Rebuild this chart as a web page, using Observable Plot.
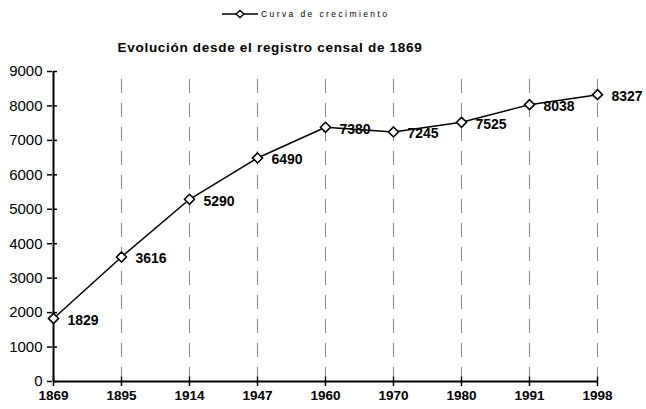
<!DOCTYPE html>
<html>
<head>
<meta charset="utf-8">
<script src="https://cdn.jsdelivr.net/npm/d3@7"></script>
<script src="https://cdn.jsdelivr.net/npm/@observablehq/plot@0.6"></script>
<style>
  html, body { margin: 0; padding: 0; background: #fff; }
  #wrap { position: relative; width: 646px; height: 409px; font-family: Arial, "Liberation Sans", sans-serif; }
  #legend { position: absolute; left: 222px; top: 7px; height: 14px; display: flex; align-items: center; font-size: 8.5px; letter-spacing: 2.4px; color: #000; }
  #title { position: absolute; left: 0; width: 540px; top: 40px; text-align: center; font-weight: bold; font-size: 13.5px; letter-spacing: 0.7px; color: #000; }
  #chart { position: absolute; left: 0; top: 62px; }
</style>
</head>
<body>
<div id="wrap">
  <div id="legend">
    <svg width="36" height="10" style="margin-right:3px"><line x1="0" y1="5" x2="36" y2="5" stroke="#000" stroke-width="1.5"/><path d="M14,5 L18,1.5 L22,5 L18,8.5 Z" fill="#fff" stroke="#000" stroke-width="1.4"/></svg>
    <span>Curva de crecimiento</span>
  </div>
  <div id="title">Evolución desde el registro censal de 1869</div>
  <div id="chart"></div>
</div>
<script>
const years = ["1869", "1895", "1914", "1947", "1960", "1970", "1980", "1991", "1998"];
const values = [1829, 3616, 5290, 6490, 7380, 7245, 7525, 8038, 8327];
const yTicks = [0, 1000, 2000, 3000, 4000, 5000, 6000, 7000, 8000, 9000];

const data = years.map((y, i) => ({year: y, value: values[i]}));

const chart = Plot.plot({
  width: 646,
  height: 347,
  marginTop: 9,
  marginBottom: 28,
  marginLeft: 52,
  marginRight: 48,
  style: {fontFamily: "Arial, 'Liberation Sans', sans-serif", background: "#fff", color: "#000"},
  x: {type: "point", domain: years, padding: 0},
  y: {domain: [0, 9000]},
  marks: [
    Plot.ruleX(years.slice(1), {x: d => d, y1: 0, y2: 9000, stroke: "#888", strokeWidth: 1, strokeDasharray: "14,10"}),
    Plot.axisY({ticks: yTicks, tickSize: 5, tickPadding: 5, tickFormat: d => String(d), fontSize: 15, label: null, strokeWidth: 1.5}),
    Plot.axisX({tickSize: 5, tickPadding: 4, fontSize: 13.5, fontWeight: "bold", label: null, strokeWidth: 1.5}),
    Plot.ruleY(yTicks, {y: d => d, x1: () => years[0], x2: () => years[0], insetRight: -4, stroke: "#000", strokeWidth: 1.5}),
    Plot.ruleX(years, {x: d => d, y1: 0, y2: 130, stroke: "#000", strokeWidth: 1.5}),
    Plot.ruleX([years[0]], {x: d => d, y1: 0, y2: 9000, stroke: "#000", strokeWidth: 2}),
    Plot.ruleY([0], {x1: () => years[0], x2: () => years[years.length - 1], stroke: "#000", strokeWidth: 2}),
    Plot.line(data, {x: "year", y: "value", stroke: "#000", strokeWidth: 1.5}),
    Plot.dot(data, {x: "year", y: "value", symbol: "diamond2", r: 4.5, fill: "#fff", stroke: "#000", strokeWidth: 1.6}),
    Plot.text(data, {x: "year", y: "value", text: d => String(d.value), dx: 14, dy: 2, textAnchor: "start", fontSize: 14, fontWeight: "bold", fill: "#000"})
  ]
});
document.getElementById("chart").appendChild(chart);
</script>
</body>
</html>
